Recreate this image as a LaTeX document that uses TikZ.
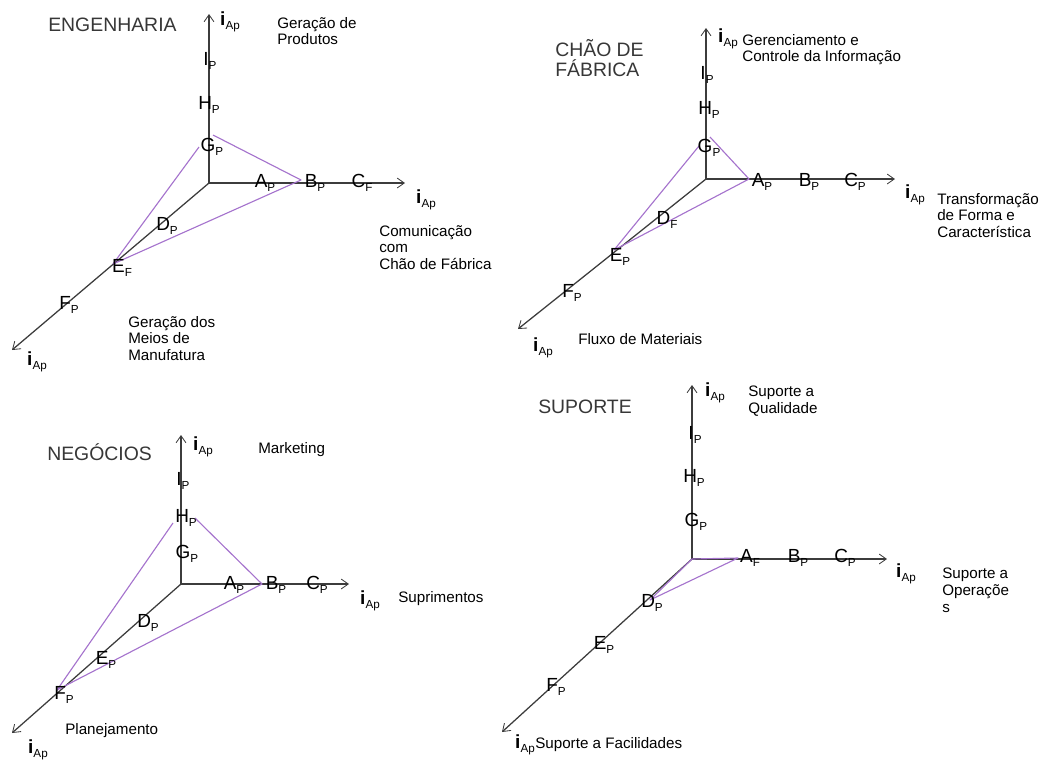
\documentclass[tikz,border=0pt]{standalone}
\usepackage{fontspec}
\setmainfont{Liberation Sans}
\usetikzlibrary{arrows.meta}
\definecolor{axisgray}{RGB}{60,60,60}
\definecolor{lilac}{RGB}{165,115,205}
\definecolor{titlegray}{RGB}{55,55,55}
\newcommand{\sublbl}[2]{#1\raisebox{-2.4pt}{\fontsize{8.3}{9}\selectfont #2}}
\newcommand{\iap}{\textbf{i}\raisebox{-2.6pt}{\fontsize{8.3}{9}\selectfont Ap}}
\tikzset{
  >={Straight Barb[length=5pt,width=7pt,line width=0.6pt]},
  axis/.style={->,draw=axisgray,line width=1.2pt},
  depth axis/.style={->,draw=axisgray,line width=0.9pt},
  plane/.style={draw=lilac,line width=0.8pt,line join=round},
  ptlbl/.style={inner sep=0pt,font=\fontsize{13.5}{15}\selectfont},
  panel title/.style={inner sep=0pt,text=titlegray,align=left,
    font=\fontsize{13.8}{14.2}\selectfont},
  note/.style={inner sep=0pt,anchor=north west,align=left,
    font=\fontsize{10.8}{11.8}\selectfont},
}
\begin{document}
\begin{tikzpicture}[x=0.025cm,y=-0.025cm]
  \useasboundingbox (0,0) rectangle (1046,759);
  % ENGENHARIA
  \coordinate (eo) at (209,183);
  \coordinate (ey) at (209,14);
  \coordinate (ex) at (405,183);
  \coordinate (ez) at (12,350);
  \draw[axis] (eo) -- (ey);
  \draw[axis] (eo) -- (ex);
  \draw[depth axis] (eo) -- (ez);
  \coordinate (eg1) at (213,135);
  \coordinate (eg2) at (199,147);
  \coordinate (eb) at (301,180);
  \coordinate (ee) at (113,264);
  \draw[plane] (eg1) -- (eb) -- (ee) -- (eg2);
  \node[panel title,anchor=base west] (etitle) at (48,31) {ENGENHARIA};
  \node[ptlbl] (eyl) at (230,22) {\iap};
  \node[ptlbl] (exl) at (426,200) {\iap};
  \node[ptlbl] (ezl) at (37,362) {\iap};
  \node[ptlbl] (eI) at (210,61) {\sublbl{I}{P}};
  \node[ptlbl] (eH) at (209,105) {\sublbl{H}{P}};
  \node[ptlbl] (eG) at (212,147) {\sublbl{G}{P}};
  \node[ptlbl] (eA) at (265,183) {\sublbl{A}{P}};
  \node[ptlbl] (eB) at (315,183) {\sublbl{B}{P}};
  \node[ptlbl] (eC) at (362,183) {\sublbl{C}{F}};
  \node[ptlbl] (eD) at (167,226) {\sublbl{D}{P}};
  \node[ptlbl] (eE) at (122,268) {\sublbl{E}{F}};
  \node[ptlbl] (eF) at (69,305) {\sublbl{F}{P}};
  \node[note] (enote1) at (277,17) {Geração de\\Produtos};
  \node[note] (enote2) at (379,225) {Comunicação\\com\\Chão de Fábrica};
  \node[note] (enote3) at (128,316) {Geração dos\\Meios de\\Manufatura};
  % CHAO DE FABRICA
  \coordinate (co) at (706,179);
  \coordinate (cy) at (706,28);
  \coordinate (cx) at (895,179);
  \coordinate (cz) at (518,329);
  \draw[axis] (co) -- (cy);
  \draw[axis] (co) -- (cx);
  \draw[depth axis] (co) -- (cz);
  \coordinate (cg1) at (710,137);
  \coordinate (cg2) at (699,146);
  \coordinate (ca) at (749,179);
  \coordinate (ce) at (614,250);
  \draw[plane] (cg1) -- (ca) -- (ce) -- (cg2);
  \node[panel title,anchor=north west] (ctitle) at (555,39) {CHÃO DE\\FÁBRICA};
  \node[ptlbl] (cyl) at (728,39) {\iap};
  \node[ptlbl] (cxl) at (915,195) {\iap};
  \node[ptlbl] (czl) at (543,348) {\iap};
  \node[ptlbl] (cI) at (707,75) {\sublbl{I}{P}};
  \node[ptlbl] (cH) at (709,110) {\sublbl{H}{P}};
  \node[ptlbl] (cG) at (709,148) {\sublbl{G}{P}};
  \node[ptlbl] (cA) at (762,182) {\sublbl{A}{P}};
  \node[ptlbl] (cB) at (809,182) {\sublbl{B}{P}};
  \node[ptlbl] (cC) at (855,182) {\sublbl{C}{P}};
  \node[ptlbl] (cD) at (667,220) {\sublbl{D}{F}};
  \node[ptlbl] (cE) at (620,257) {\sublbl{E}{P}};
  \node[ptlbl] (cF) at (572,293) {\sublbl{F}{P}};
  \node[note] (cnote1) at (742,34) {Gerenciamento e\\Controle da Informação};
  \node[note] (cnote2) at (937,193) {Transformação\\de Forma e\\Característica};
  \node[note] (cnote3) at (578,333) {Fluxo de Materiais};
  % NEGOCIOS
  \coordinate (no) at (181,584);
  \coordinate (ny) at (181,435);
  \coordinate (nx) at (349,584);
  \coordinate (nz) at (12,733);
  \draw[axis] (no) -- (ny);
  \draw[axis] (no) -- (nx);
  \draw[depth axis] (no) -- (nz);
  \coordinate (nh1) at (195,518);
  \coordinate (nh2) at (173,523);
  \coordinate (nb) at (262,584);
  \coordinate (nf) at (57,690);
  \draw[plane] (nh1) -- (nb) -- (nf) -- (nh2);
  \node[panel title,anchor=base west] (ntitle) at (47,460) {NEGÓCIOS};
  \node[ptlbl] (nyl) at (203,447) {\iap};
  \node[ptlbl] (nxl) at (370,601) {\iap};
  \node[ptlbl] (nzl) at (38,750) {\iap};
  \node[ptlbl] (nI) at (183,481) {\sublbl{I}{P}};
  \node[ptlbl] (nH) at (186,518) {\sublbl{H}{P}};
  \node[ptlbl] (nG) at (187,554) {\sublbl{G}{P}};
  \node[ptlbl] (nA) at (234,585) {\sublbl{A}{P}};
  \node[ptlbl] (nB) at (276,585) {\sublbl{B}{P}};
  \node[ptlbl] (nC) at (317,585) {\sublbl{C}{P}};
  \node[ptlbl] (nD) at (148,623) {\sublbl{D}{P}};
  \node[ptlbl] (nE) at (106,660) {\sublbl{E}{P}};
  \node[ptlbl] (nF) at (64,695) {\sublbl{F}{P}};
  \node[note] (nnote1) at (258,442) {Marketing};
  \node[note] (nnote2) at (398,591) {Suprimentos};
  \node[note] (nnote3) at (65,723) {Planejamento};
  % SUPORTE
  \coordinate (so) at (692,559);
  \coordinate (sy) at (692,385);
  \coordinate (sx) at (887,559);
  \coordinate (sz) at (502,732);
  \draw[axis] (so) -- (sy);
  \draw[axis] (so) -- (sx);
  \draw[depth axis] (so) -- (sz);
  \coordinate (sa) at (738,558);
  \coordinate (sd) at (650,600);
  \draw[plane] (so) -- (sa) -- (sd) -- cycle;
  \node[panel title,anchor=base west] (stitle) at (538,413) {SUPORTE};
  \node[ptlbl] (syl) at (715,393) {\iap};
  \node[ptlbl] (sxl) at (906,574) {\iap};
  \node[ptlbl] (szl) at (525,745) {\iap};
  \node[ptlbl] (sI) at (695,435) {\sublbl{I}{P}};
  \node[ptlbl] (sH) at (694,478) {\sublbl{H}{P}};
  \node[ptlbl] (sG) at (696,522) {\sublbl{G}{P}};
  \node[ptlbl] (sA) at (750,558) {\sublbl{A}{F}};
  \node[ptlbl] (sB) at (798,558) {\sublbl{B}{P}};
  \node[ptlbl] (sC) at (845,558) {\sublbl{C}{P}};
  \node[ptlbl] (sD) at (652,603) {\sublbl{D}{P}};
  \node[ptlbl] (sE) at (604,645) {\sublbl{E}{P}};
  \node[ptlbl] (sF) at (556,687) {\sublbl{F}{P}};
  \node[note] (snote1) at (748,386) {Suporte a\\Qualidade};
  \node[note] (snote2) at (942,568) {Suporte a\\Operaçõe\\s};
  \node[note,anchor=west] (snote3) at (535,745) {Suporte a Facilidades};
\end{tikzpicture}
\end{document}
